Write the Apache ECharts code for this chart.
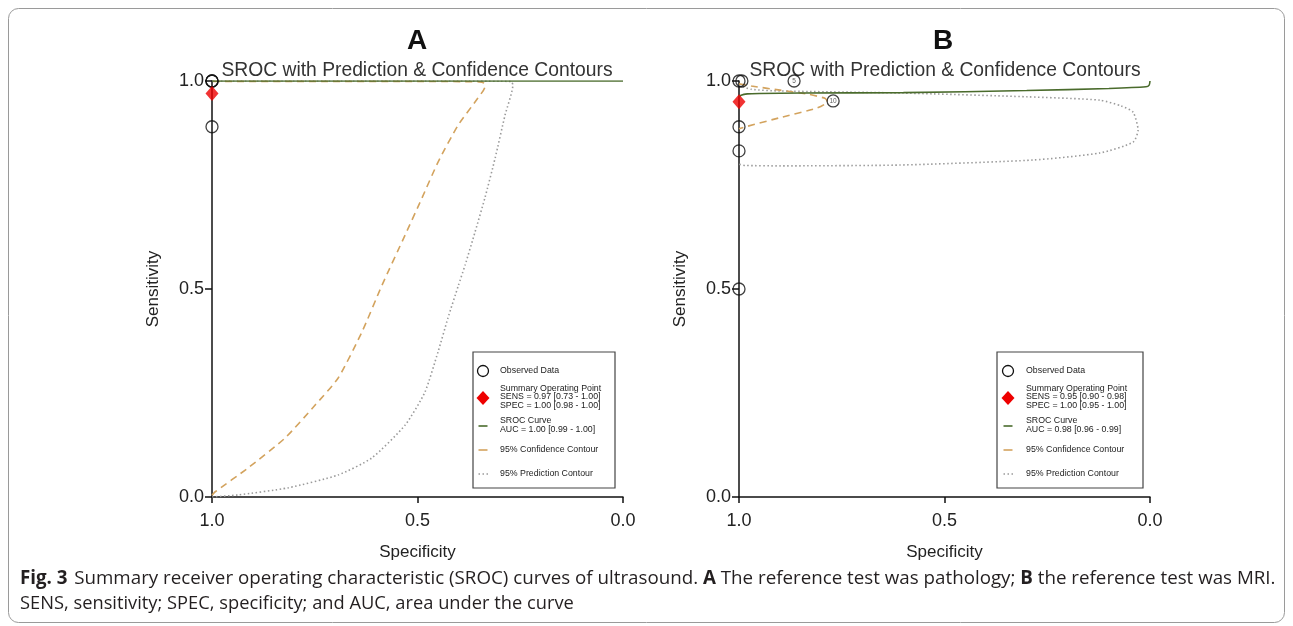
<!DOCTYPE html>
<html><head><meta charset="utf-8">
<script src="https://cdn.jsdelivr.net/npm/echarts@6/dist/echarts.min.js"></script>
<style>html,body{margin:0;padding:0;background:#fff}#c{width:1293px;height:626px}</style>
</head><body><div id="c"></div>
<script>
// ---------- data (spec = specificity, sens = sensitivity) ----------
const tickLabels = ['0.0', '0.5', '1.0'];

// Panel A: reference test = pathology
const obsA_spec = [1.0, 1.0, 1.0, 1.0];
const obsA_sens = [1.0, 1.0, 1.0, 0.89];
const sumA_spec = [1.0];
const sumA_sens = [0.97];
const srocA_spec = [1.0, 0.0];
const srocA_sens = [1.0, 1.0];
const confA_spec = [1.0, 0.993, 0.912, 0.822, 0.749, 0.693, 0.635, 0.586, 0.530, 0.489, 0.450, 0.401, 0.353, 0.336, 0.338, 0.350, 0.5, 0.8, 1.0];
const confA_sens = [0.004, 0.012, 0.070, 0.142, 0.221, 0.286, 0.397, 0.510, 0.630, 0.719, 0.805, 0.894, 0.959, 0.986, 0.995, 0.998, 0.999, 0.999, 0.999];
const predA_spec = [1.0, 0.937, 0.815, 0.693, 0.611, 0.530, 0.482, 0.450, 0.426, 0.401, 0.384, 0.360, 0.336, 0.311, 0.287, 0.268, 0.272, 0.5, 0.8, 1.0];
const predA_sens = [0.0, 0.005, 0.022, 0.053, 0.094, 0.173, 0.252, 0.349, 0.430, 0.507, 0.558, 0.637, 0.719, 0.815, 0.918, 0.990, 0.999, 1.0, 1.0, 1.0];
const legendA = ['Observed Data',
  'Summary Operating Point\nSENS = 0.97 [0.73 - 1.00]\nSPEC = 1.00 [0.98 - 1.00]',
  'SROC Curve\nAUC = 1.00 [0.99 - 1.00]',
  '95% Confidence Contour',
  '95% Prediction Contour'];

// Panel B: reference test = MRI
const obsB_spec = [1.0, 0.993, 0.866, 0.771, 1.0, 1.0, 1.0];
const obsB_sens = [1.0, 1.0, 1.0, 0.952, 0.89, 0.832, 0.5];
const obsB_lab = ['', '', '5', '10', '', '', ''];
const sumB_spec = [1.0];
const sumB_sens = [0.95];
const srocB_spec = [1.0, 0.995, 0.98, 0.95, 0.85, 0.6, 0.3, 0.1, 0.01, 0.002, 0.0];
const srocB_sens = [0.962, 0.966, 0.969, 0.970, 0.971, 0.972, 0.977, 0.982, 0.986, 0.990, 1.0];
const confB_spec = [1.0, 0.97, 0.9, 0.83, 0.79, 0.785, 0.81, 0.9, 0.98, 1.0];
const confB_sens = [0.993, 0.988, 0.978, 0.968, 0.958, 0.950, 0.935, 0.912, 0.891, 0.885];
const predB_spec = [1.0, 0.97, 0.9, 0.6, 0.3, 0.122, 0.07, 0.041, 0.029, 0.041, 0.122, 0.285, 0.608, 0.9, 0.985, 1.0];
const predB_sens = [0.99, 0.98, 0.976, 0.971, 0.962, 0.954, 0.94, 0.925, 0.882, 0.853, 0.827, 0.81, 0.798, 0.796, 0.797, 0.80];
const legendB = ['Observed Data',
  'Summary Operating Point\nSENS = 0.95 [0.90 - 0.98]\nSPEC = 1.00 [0.95 - 1.00]',
  'SROC Curve\nAUC = 0.98 [0.96 - 0.99]',
  '95% Confidence Contour',
  '95% Prediction Contour'];

const panelTitles = ['A', 'B'];
const subTitle = 'SROC with Prediction & Confidence Contours';
const captionLine1 = ['Fig. 3', 'Summary receiver operating characteristic (SROC) curves of ultrasound.', 'A', 'The reference test was pathology;', 'B', 'the reference test was MRI.'];
const captionLine2 = 'SENS, sensitivity; SPEC, specificity; and AUC, area under the curve';

// ---------- helpers ----------
const zip = (xs, ys) => xs.map((x, i) => [x, ys[i]]);
const FONT = 'Liberation Sans, Arial, sans-serif';
const CAPFONT = 'Open Sans, sans-serif';
const C_SROC = '#4a6b2c', C_CONF = '#d3a35e', C_PRED = '#9a9a9a';

const gridPos = [{left: 212, top: 81, width: 411, height: 416}, {left: 739, top: 81, width: 411, height: 416}];

function xAx(i) {
  return {
    gridIndex: i, type: 'value', inverse: true, min: 0, max: 1, interval: 0.5,
    name: 'Specificity', nameLocation: 'middle', nameGap: 47,
    nameTextStyle: {fontFamily: FONT, fontSize: 17, color: '#222'},
    axisLine: {show: true, onZero: false, lineStyle: {color: '#111', width: 1.5}},
    axisTick: {show: true, length: 6, lineStyle: {color: '#111', width: 1.5}},
    axisLabel: {fontFamily: FONT, fontSize: 18, color: '#222', margin: 15, formatter: v => tickLabels[Math.round(v * 2)]},
    splitLine: {show: false}
  };
}
function yAx(i) {
  return {
    gridIndex: i, type: 'value', min: 0, max: 1, interval: 0.5,
    name: 'Sensitivity', nameLocation: 'middle', nameGap: 50,
    nameTextStyle: {fontFamily: FONT, fontSize: 17, color: '#222'},
    axisLine: {show: true, onZero: false, lineStyle: {color: '#111', width: 1.5}},
    axisTick: {show: true, length: 7, lineStyle: {color: '#111', width: 1.5}},
    axisLabel: {fontFamily: FONT, fontSize: 18, color: '#222', margin: 8, formatter: v => tickLabels[Math.round(v * 2)]},
    splitLine: {show: false}
  };
}

function panelSeries(i, p) {
  return [
    {name: '95% Prediction Contour', type: 'line', xAxisIndex: i, yAxisIndex: i, data: zip(p.predS, p.predE), symbol: 'none', smooth: 0.2,
     lineStyle: {color: C_PRED, width: 1.6, type: [1.5, 2.5]}, z: 3},
    {name: '95% Confidence Contour', type: 'line', xAxisIndex: i, yAxisIndex: i, data: zip(p.confS, p.confE), symbol: 'none', smooth: 0.2,
     lineStyle: {color: C_CONF, width: 1.6, type: [7, 5]}, z: 4},
    {name: 'SROC Curve', type: 'line', xAxisIndex: i, yAxisIndex: i, data: zip(p.srocS, p.srocE), symbol: 'none', smooth: 0.2,
     lineStyle: {color: C_SROC, width: 1.6}, z: 5},
    {name: 'Observed Data', type: 'scatter', xAxisIndex: i, yAxisIndex: i,
     data: zip(p.obsS, p.obsE).map((d, k) => ({value: d, label: {show: !!(p.lab && p.lab[k]), formatter: p.lab ? p.lab[k] : ''}})),
     symbol: 'circle', symbolSize: 12,
     itemStyle: {color: 'rgba(255,255,255,0)', borderColor: '#111', borderWidth: 1.3},
     label: {position: 'inside', fontSize: 6.5, color: '#333', fontFamily: FONT}, z: 6},
    {name: 'Summary Operating Point', type: 'scatter', xAxisIndex: i, yAxisIndex: i, data: zip(p.sumS, p.sumE),
     symbol: 'diamond', symbolSize: [13, 15], itemStyle: {color: '#ee0000'}, z: 7}
  ];
}

// legend box drawn as graphic
function legendGraphic(x0, w, ix, tx, texts) {
  const ts = {fontFamily: FONT, fontSize: 8.8, lineHeight: 8.6, fill: '#222', verticalAlign: 'middle', align: 'left'};
  const txt = (y, s) => ({type: 'text', x: tx, y: y, style: Object.assign({text: s}, ts), z: 100});
  return {
    type: 'group', silent: true, children: [
      {type: 'rect', shape: {x: x0, y: 352, width: w, height: 136}, style: {fill: '#fff', stroke: '#444', lineWidth: 1.2}, z: 99},
      {type: 'circle', shape: {cx: ix, cy: 371, r: 5.5}, style: {fill: '#fff', stroke: '#111', lineWidth: 1.3}, z: 100},
      txt(371, texts[0]),
      {type: 'polygon', shape: {points: [[ix, 391], [ix + 6.5, 398], [ix, 405], [ix - 6.5, 398]]}, style: {fill: '#ee0000'}, z: 100},
      txt(397, texts[1]),
      {type: 'line', shape: {x1: ix - 4.5, y1: 426, x2: ix + 4.5, y2: 426}, style: {stroke: C_SROC, lineWidth: 1.6}, z: 100},
      txt(425, texts[2]),
      {type: 'line', shape: {x1: ix - 4.5, y1: 450, x2: ix + 4.5, y2: 450}, style: {stroke: C_CONF, lineWidth: 1.6}, z: 100},
      txt(450, texts[3]),
      {type: 'line', shape: {x1: ix - 4.5, y1: 474, x2: ix + 5.5, y2: 474}, style: {stroke: C_PRED, lineWidth: 1.6, lineDash: [1.5, 2.5]}, z: 100},
      txt(474, texts[4])
    ]
  };
}

const option = {
  animation: false,
  backgroundColor: '#fff',
  title: [
    {text: panelTitles[0], left: 412, top: 22, textAlign: 'center', textStyle: {fontFamily: FONT, fontSize: 28, fontWeight: 'bold', color: '#111'}},
    {text: panelTitles[1], left: 938, top: 22, textAlign: 'center', textStyle: {fontFamily: FONT, fontSize: 28, fontWeight: 'bold', color: '#111'}},
    {text: subTitle, left: 412, top: 56, textAlign: 'center', textStyle: {fontFamily: FONT, fontSize: 19.3, fontWeight: 'normal', color: '#333'}},
    {text: subTitle, left: 940, top: 56, textAlign: 'center', textStyle: {fontFamily: FONT, fontSize: 19.3, fontWeight: 'normal', color: '#333'}}
  ],
  grid: gridPos,
  xAxis: [xAx(0), xAx(1)],
  yAxis: [yAx(0), yAx(1)],
  series: [
    ...panelSeries(0, {obsS: obsA_spec, obsE: obsA_sens, sumS: sumA_spec, sumE: sumA_sens, srocS: srocA_spec, srocE: srocA_sens,
      confS: confA_spec, confE: confA_sens, predS: predA_spec, predE: predA_sens}),
    ...panelSeries(1, {obsS: obsB_spec, obsE: obsB_sens, lab: obsB_lab, sumS: sumB_spec, sumE: sumB_sens, srocS: srocB_spec, srocE: srocB_sens,
      confS: confB_spec, confE: confB_sens, predS: predB_spec, predE: predB_sens})
  ],
  graphic: [
    {type: 'rect', shape: {x: 8.5, y: 8.5, width: 1276, height: 614, r: 10}, style: {fill: 'none', stroke: '#9a9a9a', lineWidth: 1}, silent: true, z: -10},
    legendGraphic(473, 142, 483, 500, legendA),
    legendGraphic(997, 146, 1008, 1026, legendB),
    {type: 'text', left: 20, top: 569, silent: true, style: {
      text: '{b|' + captionLine1[0] + '}  {n|' + captionLine1[1] + ' }{b|' + captionLine1[2] + '}{n| ' + captionLine1[3] + ' }{b|' + captionLine1[4] + '}{n| ' + captionLine1[5] + '}',
      rich: {
        b: {fontFamily: CAPFONT, fontSize: 18.75, fontWeight: 'bold', fill: '#231f20'},
        n: {fontFamily: CAPFONT, fontSize: 18.75, fill: '#231f20'}
      }}},
    {type: 'text', left: 20, top: 595, silent: true, style: {
      text: captionLine2, font: '18.3px "Open Sans", sans-serif', fill: '#231f20'}}
  ]
};

echarts.init(document.getElementById('c'), null, {renderer: 'canvas'}).setOption(option);
</script>
</body></html>
